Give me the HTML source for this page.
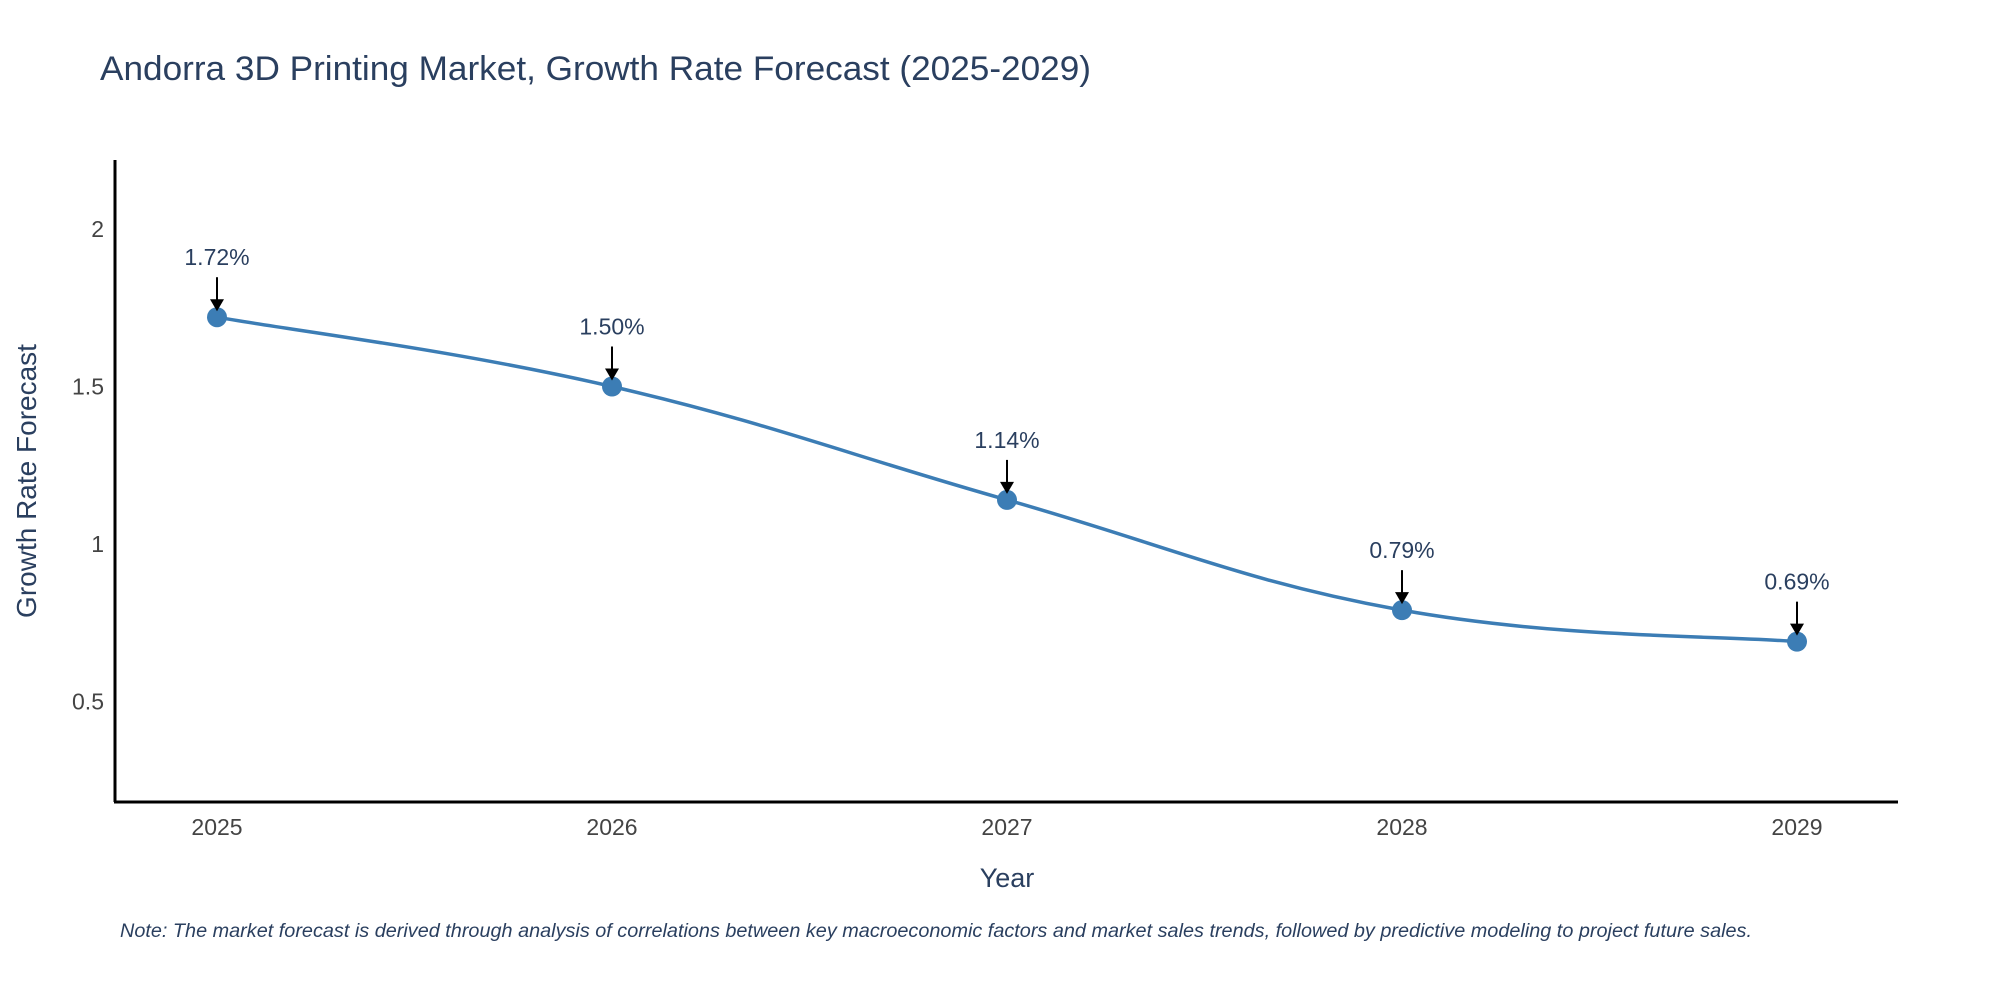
<!DOCTYPE html>
<html><head><meta charset="utf-8"><style>
body{margin:0;background:#fff;}
svg text{font-family:"Liberation Sans",sans-serif;}
</style></head><body>
<svg id="chart" width="2000" height="1000" xmlns="http://www.w3.org/2000/svg">
<rect width="2000" height="1000" fill="#fff"/>
<text x="100" y="80" font-size="34" fill="#2a3f5f" textLength="991" lengthAdjust="spacingAndGlyphs">Andorra 3D Printing Market, Growth Rate Forecast (2025-2029)</text>
<g id="yticks"></g><g id="xticks"></g>
<line x1="115" y1="160" x2="115" y2="802" stroke="#000" stroke-width="3"/>
<line x1="114" y1="802" x2="1898" y2="802" stroke="#000" stroke-width="3"/>
<path id="line" fill="none" stroke="#3c7db5" stroke-width="3.5"/>
<g id="marks"></g>
<text x="1007" y="887" font-size="27" fill="#2a3f5f" text-anchor="middle">Year</text>
<text transform="translate(36,481) rotate(-90)" font-size="28" fill="#2a3f5f" text-anchor="middle">Growth Rate Forecast</text>
<text x="120" y="937" font-size="19" font-style="italic" fill="#2a3f5f" textLength="1632" lengthAdjust="spacingAndGlyphs">Note: The market forecast is derived through analysis of correlations between key macroeconomic factors and market sales trends, followed by predictive modeling to project future sales.</text>
</svg>
<script>
const years = [2025, 2026, 2027, 2028, 2029];
const rates = [1.72, 1.50, 1.14, 0.79, 0.69];
const rateLabels = ["1.72%", "1.50%", "1.14%", "0.79%", "0.69%"];
const yTicks = [0.5, 1, 1.5, 2];
const NS = "http://www.w3.org/2000/svg";
const xs = i => 217 + i * 395;
const ys = v => 544 - (v - 1) * 315;
function mk(tag, attrs, parent){const e=document.createElementNS(NS,tag);for(const k in attrs)e.setAttribute(k,attrs[k]);parent.appendChild(e);return e;}
const yt=document.getElementById('yticks');
yTicks.forEach(v=>{const t=mk('text',{x:104,y:ys(v)+8,'font-size':23,fill:'#444','text-anchor':'end'},yt);


t.textContent=String(v);});
const xt=document.getElementById('xticks');
years.forEach((y,i)=>{const t=mk('text',{x:xs(i),y:835,'font-size':23,fill:'#444','text-anchor':'middle'},xt);


t.textContent=String(y);});
const pts=rates.map((v,i)=>[xs(i),ys(v)]);
let d=`M${pts[0][0]},${pts[0][1]}`;
for(let i=0;i<pts.length-1;i++){const p0=pts[Math.max(0,i-1)],p1=pts[i],p2=pts[i+1],p3=pts[Math.min(pts.length-1,i+2)];const k=5;
d+=` C${p1[0]+(p2[0]-p0[0])/k},${p1[1]+(p2[1]-p0[1])/k} ${p2[0]-(p3[0]-p1[0])/k},${p2[1]-(p3[1]-p1[1])/k} ${p2[0]},${p2[1]}`;}
document.getElementById('line').setAttribute('d',d);
const mg=document.getElementById('marks');
pts.forEach((p,i)=>{
const c=mk('circle',{cx:p[0],cy:p[1],r:10,fill:'#3c7db5'},mg);


const l=mk('line',{x1:p[0],y1:p[1]-40,x2:p[0],y2:p[1]-14,stroke:'#000','stroke-width':2},mg);


const h=mk('path',{d:`M${p[0]-7},${p[1]-18} L${p[0]+7},${p[1]-18} L${p[0]},${p[1]-6} Z`,fill:'#000'},mg);


const t=mk('text',{x:p[0],y:p[1]-52,'font-size':23,fill:'#2a3f5f','text-anchor':'middle'},mg);


t.textContent=rateLabels[i];});
</script>
</body></html>
